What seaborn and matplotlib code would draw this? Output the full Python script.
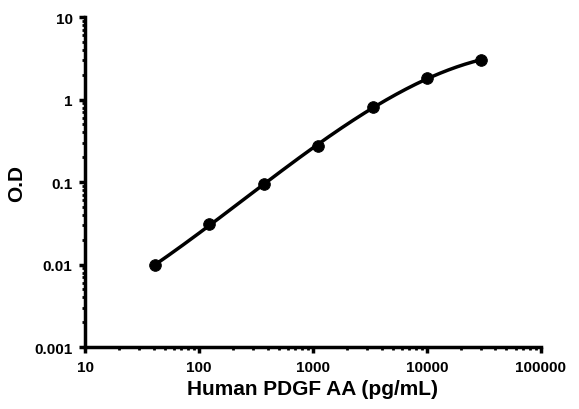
import numpy as np
import pandas as pd
import matplotlib
matplotlib.use("Agg")
import matplotlib.pyplot as plt
import seaborn as sns
from matplotlib.ticker import LogLocator, FixedFormatter, FixedLocator, NullFormatter

conc = [41.15, 123.5, 370.4, 1111, 3333, 10000, 30000]
od = [0.0098, 0.031, 0.095, 0.27, 0.81, 1.82, 3.0]
xticks = [10, 100, 1000, 10000, 100000]
xlabels = ["10", "100", "1000", "10000", "100000"]
yticks = [0.001, 0.01, 0.1, 1, 10]
ylabels = ["0.001", "0.01", "0.1", "1", "10"]

sns.set_theme(style="white")
plt.rcParams['font.family'] = ['Liberation Sans', 'DejaVu Sans']
plt.rcParams['text.color'] = 'black'
plt.rcParams['axes.labelcolor'] = 'black'
plt.rcParams['xtick.color'] = 'black'
plt.rcParams['ytick.color'] = 'black'

df = pd.DataFrame({"conc": conc, "od": od})

# smooth fitted curve in log-log space
lx = np.log10(df["conc"].values)
ly = np.log10(df["od"].values)
coef = np.polyfit(lx, ly, 3)
fx = np.linspace(lx.min(), lx.max(), 200)
fit = pd.DataFrame({"conc": 10 ** fx, "od": 10 ** np.polyval(coef, fx)})

fig = plt.figure(figsize=(5.79, 4.10), dpi=100)
ax = fig.add_axes([0.147, 0.151, 0.787, 0.805])

sns.lineplot(data=fit, x="conc", y="od", ax=ax, color="black", linewidth=2.5)
sns.scatterplot(data=df, x="conc", y="od", ax=ax, color="black", s=70, edgecolor="black", zorder=5)

ax.set_xscale("log")
ax.set_yscale("log")
ax.set_xlim(10, 100000)
ax.set_ylim(0.001, 10)

ax.xaxis.set_major_locator(FixedLocator(xticks))
ax.xaxis.set_major_formatter(FixedFormatter(xlabels))
ax.yaxis.set_major_locator(FixedLocator(yticks))
ax.yaxis.set_major_formatter(FixedFormatter(ylabels))
ax.xaxis.set_minor_locator(LogLocator(base=10, subs=np.arange(2, 10)))
ax.yaxis.set_minor_locator(LogLocator(base=10, subs=np.arange(2, 10)))
ax.xaxis.set_minor_formatter(NullFormatter())
ax.yaxis.set_minor_formatter(NullFormatter())

for s in ["top", "right"]:
    ax.spines[s].set_visible(False)
for s in ["left", "bottom"]:
    ax.spines[s].set_linewidth(2.5)
    ax.spines[s].set_color("black")

ax.tick_params(axis="both", which="major", direction="out", length=4, width=2.5,
               color="black", labelcolor="black", labelsize=11, pad=5, bottom=True, left=True)
ax.tick_params(axis="both", which="minor", direction="out", length=2.5, width=2,
               color="black", bottom=True, left=True)
for lab in ax.get_xticklabels() + ax.get_yticklabels():
    lab.set_fontweight("bold")

ax.set_xlabel("Human PDGF AA (pg/mL)", fontsize=15, fontweight="bold", labelpad=4, color="black")
ax.set_ylabel("O.D", fontsize=15, fontweight="bold", labelpad=6, color="black")

fig.savefig("out.png", dpi=100)
